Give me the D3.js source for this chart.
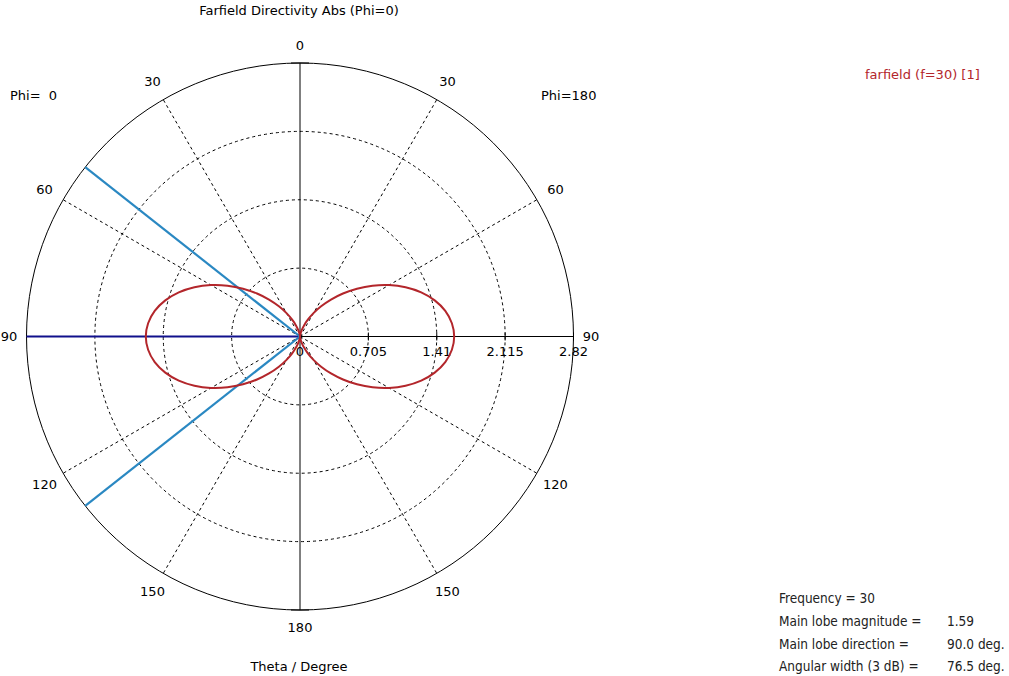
<!DOCTYPE html>
<html>
<head>
<meta charset="utf-8">
<script src="https://cdn.jsdelivr.net/npm/d3@7"></script>
<style>
  html, body { margin: 0; padding: 0; background: #fff; }
  svg text { font-family: "DejaVu Sans", Verdana, sans-serif; font-size: 13px; fill: #000; white-space: pre; }
  svg text.info { font-family: "DejaVu Sans Condensed", "DejaVu Sans", sans-serif; font-stretch: condensed; font-size: 13.5px; fill: #222; }
</style>
</head>
<body>
<svg id="chart" width="1009" height="676"></svg>
<script>
// ---- data ----
const thetaDeg = [0,5,10,15,20,25,30,35,40,45,50,55,60,65,70,75,80,85,90,95,100,105,110,115,120,125,130,135,140,145,150,155,160,165,170,175,180];
const phi0Values = [0,0.008,0.030,0.068,0.122,0.191,0.278,0.380,0.497,0.627,0.767,0.913,1.060,1.201,1.330,1.438,1.521,1.572,1.590,1.572,1.521,1.438,1.330,1.201,1.060,0.913,0.767,0.627,0.497,0.380,0.278,0.191,0.122,0.068,0.030,0.008,0];
const phi180Values = [0,0.008,0.030,0.068,0.122,0.191,0.278,0.380,0.497,0.627,0.767,0.913,1.060,1.201,1.330,1.438,1.521,1.572,1.590,1.572,1.521,1.438,1.330,1.201,1.060,0.913,0.767,0.627,0.497,0.380,0.278,0.191,0.122,0.068,0.030,0.008,0];
const radialTicks = [0, 0.705, 1.41, 2.115, 2.82];
const angleTicks = [0, 30, 60, 90, 120, 150, 180];
const mainLobeDir = 90;
const beamEdges = [51.75, 128.25];
const infoLabels = ["Frequency = 30", "Main lobe magnitude =", "Main lobe direction =", "Angular width (3 dB) ="];
const infoValues = ["", "1.59", "90.0 deg.", "76.5 deg."];
const titleText = "Farfield Directivity Abs (Phi=0)";
const legendText = "farfield (f=30) [1]";

// ---- layout ----
const svg = d3.select("#chart");
const cx = 300, cy = 336.5, R = 273.5;
const r = d3.scaleLinear().domain([0, 2.82]).range([0, R]);
const g = svg.append("g").attr("transform", `translate(${cx},${cy})`);
const rad = d => d * Math.PI / 180;
// left half (Phi=0): angle measured counter-clockwise from top; right half (Phi=180): clockwise
const pt = (thetaD, val, side) => {
  const a = rad(thetaD) * side;
  return [r(val) * Math.sin(a), -r(val) * Math.cos(a)];
};

// dashed grid circles
g.selectAll("circle.grid").data(radialTicks.slice(1, -1)).enter().append("circle")
  .attr("r", d => r(d)).attr("fill", "none").attr("stroke", "#000")
  .attr("stroke-width", 1).attr("stroke-dasharray", "3,3");
// outer circle
g.append("circle").attr("r", r(2.82)).attr("fill", "none").attr("stroke", "#000").attr("stroke-width", 1);

// dashed spokes
[30, 60, 120, 150].forEach(a => {
  [-1, 1].forEach(s => {
    const p = pt(a, 2.82, s);
    g.append("line").attr("x1", 0).attr("y1", 0).attr("x2", p[0]).attr("y2", p[1])
      .attr("stroke", "#000").attr("stroke-width", 1).attr("stroke-dasharray", "3,3");
  });
});
// solid axes
g.append("line").attr("x1", 0).attr("y1", -r(2.82)).attr("x2", 0).attr("y2", r(2.82)).attr("stroke", "#000");
g.append("line").attr("x1", -r(2.82)).attr("y1", 0).attr("x2", r(2.82)).attr("y2", 0).attr("stroke", "#000");
// top / bottom small ticks
g.append("line").attr("x1", -9).attr("x2", 9).attr("y1", -r(2.82)).attr("y2", -r(2.82)).attr("stroke", "#000");
g.append("line").attr("x1", -9).attr("x2", 9).attr("y1", r(2.82)).attr("y2", r(2.82)).attr("stroke", "#000");

// radial ticks on right horizontal axis
g.selectAll("line.rt").data(radialTicks.slice(1)).enter().append("line")
  .attr("x1", d => r(d)).attr("x2", d => r(d)).attr("y1", -4).attr("y2", 4).attr("stroke", "#000");
g.selectAll("text.rl").data(radialTicks).enter().append("text")
  .attr("x", d => r(d)).attr("y", 15).attr("text-anchor", "middle").attr("dominant-baseline", "central")
  .text(d => d === 0 ? "0" : String(d));

// angle labels
angleTicks.forEach(a => {
  const sides = (a === 0 || a === 180) ? [1] : [-1, 1];
  const lr = (a % 90 === 0) ? 291 : 295;
  sides.forEach(s => {
    const p = [lr * Math.sin(rad(a) * s), -lr * Math.cos(rad(a) * s)];
    g.append("text").attr("x", p[0]).attr("y", p[1]).attr("text-anchor", "middle")
      .attr("dominant-baseline", "central").text(a);
  });
});

// main lobe direction line (dark blue), 3dB beam edges (light blue) on the Phi=0 side
{
  const p = pt(mainLobeDir, 2.82, -1);
  g.append("line").attr("x1", 0).attr("y1", 0).attr("x2", p[0]).attr("y2", p[1])
    .attr("stroke", "#10108c").attr("stroke-width", 2.2);
}
beamEdges.forEach(a => {
  const p = pt(a, 2.82, -1);
  g.append("line").attr("x1", 0).attr("y1", 0).attr("x2", p[0]).attr("y2", p[1])
    .attr("stroke", "#2a88c2").attr("stroke-width", 2.2);
});

// pattern curve
const leftPts = thetaDeg.map((t, i) => pt(t, phi0Values[i], -1));
const rightPts = thetaDeg.map((t, i) => pt(t, phi180Values[i], 1)).reverse();
const line = d3.line().curve(d3.curveCatmullRom);
g.append("path").attr("d", line(leftPts.concat(rightPts.slice(1))))
  .attr("fill", "none").attr("stroke", "#b3262b").attr("stroke-width", 2);

// texts
svg.append("text").attr("x", 299).attr("y", 10).attr("text-anchor", "middle").attr("dominant-baseline", "central").text(titleText);
svg.append("text").attr("x", 299).attr("y", 666).attr("text-anchor", "middle").attr("dominant-baseline", "central").text("Theta / Degree");
svg.append("text").attr("x", 10).attr("y", 95).attr("dominant-baseline", "central").text("Phi=  0");
svg.append("text").attr("x", 541).attr("y", 95).attr("dominant-baseline", "central").text("Phi=180");
svg.append("text").attr("x", 865).attr("y", 74).attr("dominant-baseline", "central").style("fill", "#b3262b").text(legendText);

const infoY = [598, 621, 644, 666];
infoLabels.forEach((t, i) => {
  svg.append("text").attr("class", "info").attr("x", 779).attr("y", infoY[i]).attr("dominant-baseline", "central").text(t);
  if (infoValues[i]) {
    svg.append("text").attr("class", "info").attr("x", 947).attr("y", infoY[i]).attr("dominant-baseline", "central").text(infoValues[i]);
  }
});
</script>
</body>
</html>
